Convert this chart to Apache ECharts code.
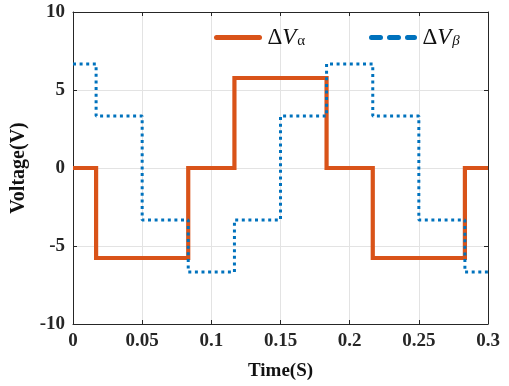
<!DOCTYPE html>
<html>
<head>
<meta charset="utf-8">
<script src="https://cdn.jsdelivr.net/npm/echarts@6/dist/echarts.min.js"></script>
<style>
  html, body { margin: 0; padding: 0; background: #fff; }
  #chart { width: 509px; height: 386px; }
</style>
</head>
<body>
<div id="chart"></div>
<script>
// Switching instants (s) and the voltage level held over each interval (V)
const alphaEdges = [0, 0.0167, 0.0833, 0.1167, 0.1833, 0.2167, 0.2833, 0.3];
const alphaLevels = [0, -5.77, 0, 5.77, 0, -5.77, 0];

const betaEdges = [0, 0.0167, 0.05, 0.0833, 0.1167, 0.15, 0.1833, 0.2167, 0.25, 0.2833, 0.3];
const betaLevels = [6.67, 3.33, -3.33, -6.67, -3.33, 3.33, 6.67, 3.33, -3.33, -6.67];

const xTicks = [0, 0.05, 0.1, 0.15, 0.2, 0.25, 0.3];
const yTicks = [-10, -5, 0, 5, 10];

// Turn interval edges + levels into a staircase of [t, v] points
function staircase(edges, levels) {
  const pts = [];
  for (let i = 0; i < levels.length; i++) {
    pts.push([edges[i], levels[i]]);
    pts.push([edges[i + 1], levels[i]]);
  }
  return pts;
}

const FONT = '"Liberation Serif", "Times New Roman", serif';
const ORANGE = '#D95319';
const BLUE = '#0072BD';

const labelStyle = { fontFamily: FONT, fontWeight: 'bold', fontSize: 19, color: '#262626' };

const legendRich = {
  d: { fontFamily: FONT, fontSize: 23, color: '#111', padding: [0, 0, 0, 3] },
  v: { fontFamily: FONT, fontSize: 23, fontStyle: 'italic', color: '#111' },
  sa: { fontFamily: FONT, fontSize: 15, color: '#111', verticalAlign: 'bottom', lineHeight: 15, padding: [0, 0, 0, 1] },
  sb: { fontFamily: FONT, fontSize: 15, fontStyle: 'italic', color: '#111', verticalAlign: 'bottom', lineHeight: 15, padding: [0, 0, 0, 1] }
};

const chart = echarts.init(document.getElementById('chart'));
chart.setOption({
  animation: false,
  backgroundColor: '#fff',
  grid: { left: 73, right: 21, top: 12, bottom: 62 },
  legend: [
    {
      data: [{ name: 'alpha', itemStyle: { opacity: 0 }, lineStyle: { width: 5, cap: 'round' } }],
      left: 209, top: 21,
      itemWidth: 43, itemHeight: 14,
      formatter: () => '{d|Δ}{v|V}{sa|α}',
      textStyle: { rich: legendRich },
      selectedMode: false
    },
    {
      data: [{ name: 'beta', itemStyle: { opacity: 0 }, lineStyle: { width: 5, cap: 'round', type: [9, 9] } }],
      left: 364, top: 21,
      itemWidth: 43, itemHeight: 14,
      formatter: () => '{d|Δ}{v|V}{sb|β}',
      textStyle: { rich: legendRich },
      selectedMode: false
    }
  ],
  xAxis: [
    {
      type: 'value', min: 0, max: 0.3, interval: 0.05,
      name: 'Time(S)', nameLocation: 'middle', nameGap: 38,
      nameTextStyle: { fontFamily: FONT, fontWeight: 'bold', fontSize: 19, color: '#111' },
      axisLine: { show: true, onZero: false, lineStyle: { color: '#262626', width: 1 } },
      axisTick: { show: true, inside: true, length: 4, lineStyle: { color: '#262626' } },
      axisLabel: Object.assign({ margin: 8, formatter: v => xTicks.includes(+v.toFixed(2)) ? String(+v.toFixed(2)) : '' }, labelStyle),
      splitLine: { show: true, lineStyle: { color: '#e3e3e3', width: 1 } }
    },
    {
      type: 'value', position: 'top', min: 0, max: 0.3, interval: 0.05,
      axisLine: { show: true, onZero: false, lineStyle: { color: '#262626', width: 1 } },
      axisTick: { show: true, inside: true, length: 4, lineStyle: { color: '#262626' } },
      axisLabel: { show: false },
      splitLine: { show: false }
    }
  ],
  yAxis: [
    {
      type: 'value', min: -10, max: 10, interval: 5,
      name: 'Voltage(V)', nameLocation: 'middle', nameGap: 37,
      nameTextStyle: { fontFamily: FONT, fontWeight: 'bold', fontSize: 20, color: '#111' },
      axisLine: { show: true, onZero: false, lineStyle: { color: '#262626', width: 1 } },
      axisTick: { show: true, inside: true, length: 4, lineStyle: { color: '#262626' } },
      axisLabel: Object.assign({ margin: 8, formatter: v => yTicks.includes(v) ? String(v) : '' }, labelStyle),
      splitLine: { show: true, lineStyle: { color: '#e3e3e3', width: 1 } }
    },
    {
      type: 'value', position: 'right', min: -10, max: 10, interval: 5,
      axisLine: { show: true, onZero: false, lineStyle: { color: '#262626', width: 1 } },
      axisTick: { show: true, inside: true, length: 4, lineStyle: { color: '#262626' } },
      axisLabel: { show: false },
      splitLine: { show: false }
    }
  ],
  series: [
    {
      name: 'alpha', type: 'line', xAxisIndex: 0, yAxisIndex: 0,
      data: staircase(alphaEdges, alphaLevels),
      showSymbol: false, symbol: 'none',
      color: ORANGE,
      lineStyle: { color: ORANGE, width: 4.2, join: 'miter' },
      z: 2
    },
    {
      name: 'beta', type: 'line', xAxisIndex: 0, yAxisIndex: 0,
      data: staircase(betaEdges, betaLevels),
      showSymbol: false, symbol: 'none',
      color: BLUE,
      lineStyle: { color: BLUE, width: 3, type: [3, 3.6] },
      z: 3
    }
  ]
});
</script>
</body>
</html>
